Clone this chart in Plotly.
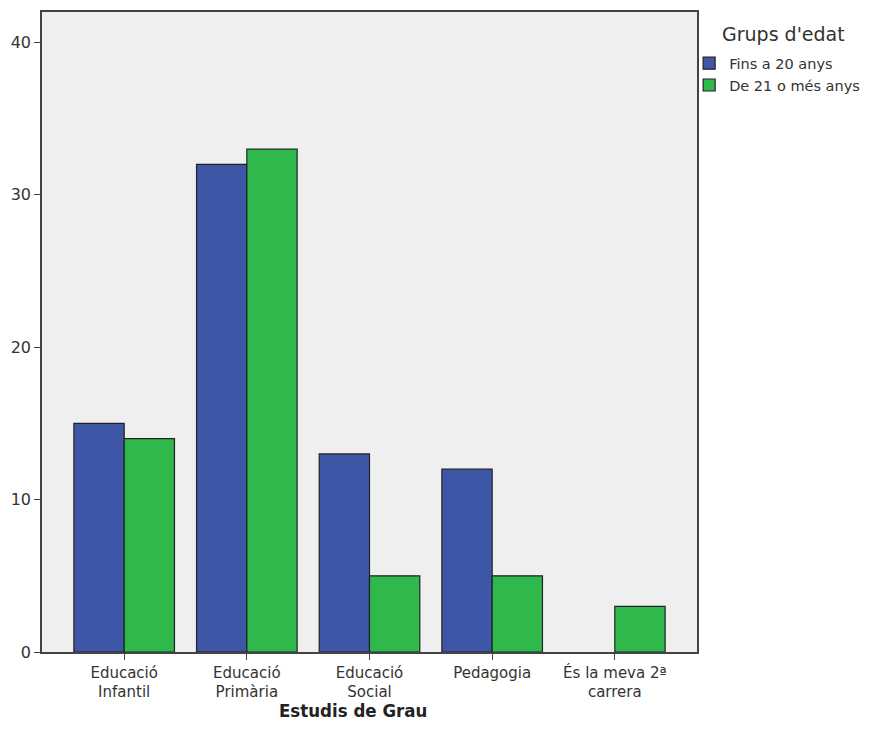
import plotly.graph_objects as go

categories = ["Educació<br>Infantil", "Educació<br>Primària", "Educació<br>Social",
              "Pedagogia", "És la meva 2ª<br>carrera"]
fins_20 = [15, 32, 13, 12, None]
de_21 = [14, 33, 5, 5, 3]
y_ticks = [0, 10, 20, 30, 40]

fig = go.Figure()
fig.add_trace(go.Bar(x=categories, y=fins_20, name="Fins a 20 anys",
                     marker=dict(color="#3e56a6", line=dict(color="#222222", width=1.2))))
fig.add_trace(go.Bar(x=categories, y=de_21, name="De 21 o més anys",
                     marker=dict(color="#2fb84b", line=dict(color="#222222", width=1.2))))

# page body has an 8px margin, so the figure is a little smaller than the window
fig.update_layout(
    width=863, height=730,
    margin=dict(l=34, r=174, t=4, b=86, autoexpand=False),
    paper_bgcolor="white",
    plot_bgcolor="#efefef",
    barmode="group",
    bargap=0.18,
    bargroupgap=0,
    font=dict(family="DejaVu Sans", color="#333333"),
    legend=dict(
        x=0.988, y=0.945, xanchor="left", yanchor="top",
        font=dict(size=14.5), tracegroupgap=0,
        bgcolor="rgba(0,0,0,0)",
    ),
    xaxis=dict(
        range=[-0.67, 4.67],
        showline=True, mirror=True, linecolor="#444444", linewidth=1.5,
        ticks="outside", ticklen=6, tickcolor="#444444",
        tickfont=dict(size=15),
        showgrid=False,
    ),
    yaxis=dict(
        range=[0, 42],
        tickvals=y_ticks,
        showline=True, mirror=True, linecolor="#444444", linewidth=1.5,
        ticks="outside", ticklen=6, tickcolor="#444444",
        tickfont=dict(size=16),
        showgrid=False, zeroline=False,
    ),
    annotations=[
        dict(text="Grups d'edat", xref="paper", yref="paper",
             x=1.0353, y=0.966, xanchor="left", yanchor="middle",
             showarrow=False, font=dict(size=19, color="#333333")),
        dict(text="<b>Estudis de Grau</b>", xref="paper", yref="paper",
             x=0.475, y=-0.092, xanchor="center", yanchor="middle",
             showarrow=False,
             font=dict(size=18.5, family="DejaVu Sans Condensed", color="#222222")),
    ],
)

fig.write_html("out.html")
